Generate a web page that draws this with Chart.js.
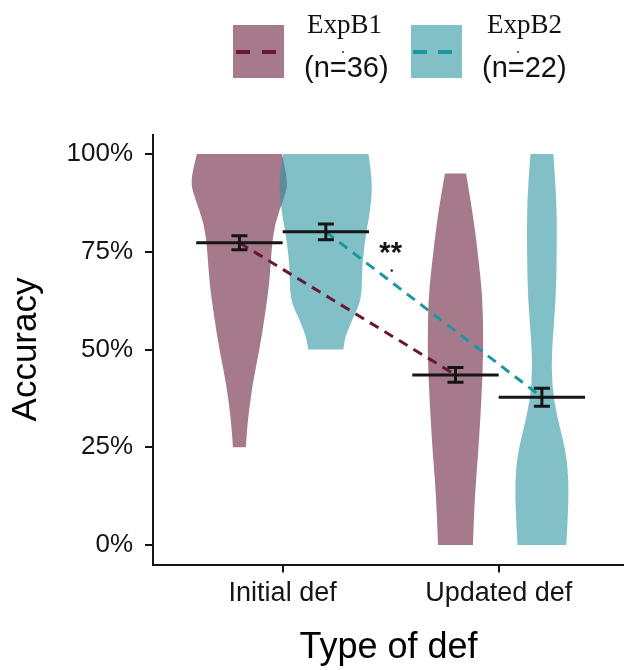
<!DOCTYPE html>
<html lang="en">
<head>
  <meta charset="UTF-8">
  <title>Accuracy by type of def</title>
  <script src="https://cdn.jsdelivr.net/npm/chart.js@4.4.0/dist/chart.umd.min.js"></script>
  <style>
    html, body { margin: 0; padding: 0; background: #fff; }
    .wrap { position: relative; width: 624px; height: 670px; }
    canvas { position: absolute; left: 0; top: 0; }
    .key { position: absolute; top: 25px; width: 51px; height: 53px; }
    .key span { position: absolute; top: 25px; width: 14px; height: 4px; }
    .name { position: absolute; top: 11px; line-height: 1; font-size: 27px; color: #111;
            font-family: "Liberation Serif", "Times New Roman", serif; }
    .count { position: absolute; top: 53px; line-height: 1; font-size: 29px; color: #111;
             font-family: "Liberation Sans", Arial, sans-serif; }
    .dot { position: absolute; width: 2px; height: 2px; background: #333; border-radius: 1px; }
  </style>
</head>
<body>
<div class="wrap">
  <canvas id="chart" width="624" height="670"></canvas>

  <!-- legend -->
  <div class="key" style="left:233px; background:rgb(166,122,138)">
    <span style="left:3px; background:#6b1537"></span><span style="left:29px; background:#6b1537"></span>
  </div>
  <div class="name" style="left:307px">ExpB1</div>
  <div class="count" style="left:304px">(n=36)</div>
  <div class="dot" style="left:342px; top:51px"></div>

  <div class="key" style="left:411px; background:rgb(130,192,200)">
    <span style="left:2px; background:#1b97a2"></span><span style="left:27px; background:#1b97a2"></span>
  </div>
  <div class="name" style="left:487px">ExpB2</div>
  <div class="count" style="left:482px">(n=22)</div>
  <div class="dot" style="left:517px; top:51px"></div>
</div>

<script>
  const categories = ['Initial def', 'Updated def'];
  const seriesNames = ['ExpB1', 'ExpB2'];
  const yTicks = [0, 25, 50, 75, 100];

  // means and standard errors (accuracy, %)
  const meanB1 = [77.3, 43.5];
  const meanB2 = [80.1, 37.8];
  const seB1 = [1.8, 1.9];
  const seB2 = [2.0, 2.3];

  // violin outlines: accuracy levels (%) and density half-widths (in category units)
  const b1InitialLevels = [25, 31, 41, 50, 58, 67, 75, 82, 89, 93, 100];
  const b1InitialWidth  = [0.03, 0.037, 0.060, 0.093, 0.116, 0.139, 0.148, 0.162, 0.208, 0.227, 0.197];
  const b2InitialLevels = [50, 53, 58, 63, 72, 81, 85, 93, 100];
  const b2InitialWidth  = [0.081, 0.088, 0.125, 0.167, 0.167, 0.190, 0.204, 0.218, 0.197];
  const b1UpdatedLevels = [0, 11.5, 24, 37, 50, 63, 71, 84, 95];
  const b1UpdatedWidth  = [0.081, 0.088, 0.106, 0.120, 0.130, 0.125, 0.111, 0.083, 0.049];
  const b2UpdatedLevels = [0, 7, 16, 24, 33, 41, 50, 63, 75, 88, 100];
  const b2UpdatedWidth  = [0.113, 0.120, 0.125, 0.111, 0.069, 0.046, 0.046, 0.065, 0.069, 0.069, 0.053];

  const dodge = 0.2;
  const fillB1 = 'rgba(107,33,60,0.6)';
  const fillB2 = 'rgba(47,150,163,0.6)';
  const lineB1 = '#6b1537';
  const lineB2 = '#1b97a2';
  const ink = '#151515';

  const violins = [
    { cx: 1 - dodge, levels: b1InitialLevels, widths: b1InitialWidth, color: fillB1 },
    { cx: 2 - dodge, levels: b1UpdatedLevels, widths: b1UpdatedWidth, color: fillB1 },
    { cx: 1 + dodge, levels: b2InitialLevels, widths: b2InitialWidth, color: fillB2 },
    { cx: 2 + dodge, levels: b2UpdatedLevels, widths: b2UpdatedWidth, color: fillB2 }
  ];

  Chart.defaults.font.family = '"Liberation Sans", Arial, sans-serif';
  Chart.defaults.color = ink;

  // smooth a chain of points through midpoints
  function smoothChain(ctx, pts, first) {
    if (first) ctx.moveTo(pts[0][0], pts[0][1]); else ctx.lineTo(pts[0][0], pts[0][1]);
    for (let i = 1; i < pts.length - 1; i++) {
      const mx = (pts[i][0] + pts[i + 1][0]) / 2;
      const my = (pts[i][1] + pts[i + 1][1]) / 2;
      ctx.quadraticCurveTo(pts[i][0], pts[i][1], mx, my);
    }
    const last = pts[pts.length - 1];
    ctx.lineTo(last[0], last[1]);
  }

  const violinPlugin = {
    id: 'violins',
    beforeDatasetsDraw(chart) {
      const { ctx, chartArea, scales: { x, y } } = chart;
      ctx.save();
      ctx.beginPath();
      ctx.rect(chartArea.left, chartArea.top, chartArea.width, chartArea.height);
      ctx.clip();
      violins.forEach(v => {
        const left = v.levels.map((lv, i) => [x.getPixelForValue(v.cx - v.widths[i]), y.getPixelForValue(lv)]);
        const right = v.levels.map((lv, i) => [x.getPixelForValue(v.cx + v.widths[i]), y.getPixelForValue(lv)]).reverse();
        ctx.beginPath();
        smoothChain(ctx, left, true);
        smoothChain(ctx, right, false);
        ctx.closePath();
        ctx.fillStyle = v.color;
        ctx.fill();
      });
      ctx.restore();
    }
  };

  const summaryPlugin = {
    id: 'summary',
    afterDatasetsDraw(chart) {
      const { ctx, scales: { x, y } } = chart;
      ctx.save();
      ctx.strokeStyle = ink;
      ctx.lineWidth = 3;
      const groups = [
        { means: meanB1, se: seB1, off: -dodge },
        { means: meanB2, se: seB2, off: dodge }
      ];
      groups.forEach(g => {
        g.means.forEach((m, i) => {
          const cx = i + 1 + g.off;
          const px = x.getPixelForValue(cx);
          const top = y.getPixelForValue(m + g.se[i]);
          const bot = y.getPixelForValue(m - g.se[i]);
          const capL = x.getPixelForValue(cx - 0.037);
          const capR = x.getPixelForValue(cx + 0.037);
          ctx.beginPath();
          // crossbar
          ctx.moveTo(x.getPixelForValue(cx - 0.2), y.getPixelForValue(m));
          ctx.lineTo(x.getPixelForValue(cx + 0.2), y.getPixelForValue(m));
          // error bar
          ctx.moveTo(px, top); ctx.lineTo(px, bot);
          ctx.moveTo(capL, top); ctx.lineTo(capR, top);
          ctx.moveTo(capL, bot); ctx.lineTo(capR, bot);
          ctx.stroke();
        });
      });
      // significance marker
      ctx.fillStyle = ink;
      ctx.font = 'bold 29px "Liberation Sans", Arial, sans-serif';
      ctx.textAlign = 'center';
      ctx.textBaseline = 'alphabetic';
      ctx.fillText('**', x.getPixelForValue(1.5), y.getPixelForValue(72.3));
      ctx.beginPath();
      ctx.arc(x.getPixelForValue(1.505), y.getPixelForValue(70.2), 1.2, 0, Math.PI * 2);
      ctx.fill();
      ctx.restore();
    }
  };

  const data = {
    datasets: [
      {
        label: seriesNames[0],
        data: meanB1.map((m, i) => ({ x: i + 1 - dodge, y: m })),
        showLine: true,
        borderColor: lineB1,
        borderWidth: 3,
        borderDash: [10, 7],
        pointRadius: 0
      },
      {
        label: seriesNames[1],
        data: meanB2.map((m, i) => ({ x: i + 1 + dodge, y: m })),
        showLine: true,
        borderColor: lineB2,
        borderWidth: 3,
        borderDash: [10, 7],
        pointRadius: 0
      }
    ]
  };

  const config = {
    type: 'scatter',
    data,
    options: {
      responsive: false,
      animation: false,
      layout: { padding: { top: 134.5, right: 0, bottom: 0, left: 0 } },
      plugins: { legend: { display: false }, tooltip: { enabled: false } },
      scales: {
        x: {
          type: 'linear',
          min: 0.4,
          max: 2.58,
          afterBuildTicks: s => { s.ticks = categories.map((c, i) => ({ value: i + 1 })); },
          afterFit: s => { s.height = 105.5; },
          ticks: {
            callback: v => categories[v - 1],
            font: { size: 27 },
            color: ink,
            padding: 5,
            maxRotation: 0,
            autoSkip: false
          },
          grid: { drawOnChartArea: false, drawTicks: true, tickLength: 8, color: ink, lineWidth: 2 },
          border: { display: true, color: ink, width: 2 },
          title: { display: true, text: 'Type of def', font: { size: 36 }, color: '#000', padding: { top: 5, bottom: 0 } }
        },
        y: {
          min: -5,
          max: 105,
          afterBuildTicks: s => { s.ticks = yTicks.map(v => ({ value: v })); },
          afterFit: s => { s.width = 153; },
          ticks: {
            callback: v => v + '%',
            font: { size: 26 },
            color: ink,
            padding: 12
          },
          grid: { drawOnChartArea: false, drawTicks: true, tickLength: 8, color: ink, lineWidth: 2 },
          border: { display: true, color: ink, width: 2 },
          title: { display: true, text: 'Accuracy', font: { size: 35 }, color: '#000', padding: { top: 5, bottom: 0 } }
        }
      }
    },
    plugins: [violinPlugin, summaryPlugin]
  };

  new Chart(document.getElementById('chart'), config);
</script>
</body>
</html>
